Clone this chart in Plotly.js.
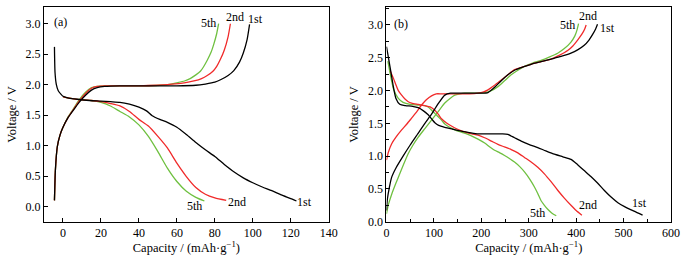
<!DOCTYPE html>
<html>
<head>
<meta charset="utf-8">
<script src="https://cdn.plot.ly/plotly-3.0.1.min.js"></script>
<style>html,body{margin:0;padding:0;background:#fff;}#chart{width:691px;height:255px;}</style>
</head>
<body>
<div id="chart"></div>
<script>
// ---- Panel (a) ----
var aD1x = [-4.5, -4.2, -3.5, -2.5, -1, 0, 3, 7.5, 14, 20, 25, 30, 35, 40, 44, 47, 51, 55, 60, 65, 70, 75, 80, 85, 90, 95, 100, 105, 110, 115, 120, 123];
var aD1y = [2.62, 2.2, 2.0, 1.9, 1.84, 1.81, 1.78, 1.76, 1.74, 1.73, 1.72, 1.71, 1.68, 1.63, 1.57, 1.49, 1.43, 1.38, 1.30, 1.18, 1.05, 0.93, 0.82, 0.69, 0.57, 0.47, 0.39, 0.32, 0.26, 0.19, 0.13, 0.09];
var aD2x = [0, 5, 10, 15, 20, 25, 30, 35, 40, 45, 50, 55, 60, 65, 70, 75, 80, 86];
var aD2y = [1.80, 1.77, 1.75, 1.74, 1.72, 1.69, 1.65, 1.56, 1.43, 1.32, 1.15, 0.96, 0.71, 0.49, 0.31, 0.20, 0.14, 0.10];
var aD5x = [0, 5, 10, 15, 20, 25, 30, 35, 40, 45, 50, 55, 60, 65, 70, 74.5];
var aD5y = [1.80, 1.77, 1.75, 1.74, 1.71, 1.65, 1.56, 1.47, 1.34, 1.15, 0.90, 0.63, 0.41, 0.25, 0.15, 0.09];
var aC1x = [-4.5, -4, -3, -1.5, 0, 2.5, 5, 8.5, 12, 15, 18, 22, 30, 40, 50, 60, 70, 75, 80, 83, 87, 90, 93, 95, 97, 98.3];
var aC1y = [0.10, 0.60, 0.98, 1.18, 1.30, 1.45, 1.56, 1.71, 1.83, 1.91, 1.95, 1.97, 1.98, 1.98, 1.98, 1.98, 1.99, 2.01, 2.04, 2.08, 2.15, 2.23, 2.37, 2.52, 2.74, 2.99];
var aC2x = [-4.5, -4, -3, -1.5, 0, 2.5, 5, 8.5, 12, 15, 18, 22, 30, 40, 50, 55, 62, 66, 69, 73, 76, 79, 81, 83, 85, 87, 88.2];
var aC2y = [0.10, 0.60, 0.98, 1.18, 1.30, 1.45, 1.57, 1.73, 1.86, 1.94, 1.97, 1.98, 1.98, 1.98, 1.99, 2.00, 2.02, 2.04, 2.06, 2.10, 2.15, 2.22, 2.30, 2.42, 2.57, 2.79, 3.0];
var aC5x = [-4.5, -4, -3, -1.5, 0, 2.5, 5, 8.5, 12, 15, 18, 22, 30, 40, 51, 57, 60, 64, 67, 70, 72.4, 74, 76, 78, 79.5, 81, 82];
var aC5y = [0.10, 0.60, 0.98, 1.18, 1.30, 1.46, 1.58, 1.75, 1.88, 1.95, 1.97, 1.98, 1.98, 1.98, 1.99, 2.01, 2.03, 2.06, 2.10, 2.16, 2.22, 2.29, 2.40, 2.53, 2.67, 2.84, 3.0];

// ---- Panel (b) ----
var bD1x = [0, 3, 7, 11, 15, 20, 28, 40, 55, 67, 78, 88, 96, 102, 110, 123, 140, 158, 175, 193, 210, 228, 245, 256, 270, 284, 300, 319, 336, 354, 372, 389, 403, 417, 431, 445, 459, 473, 488, 502, 522, 540];
var bD1y = [2.67, 2.55, 2.38, 2.21, 2.04, 1.88, 1.79, 1.77, 1.76, 1.74, 1.69, 1.63, 1.56, 1.51, 1.47, 1.44, 1.41, 1.38, 1.36, 1.34, 1.34, 1.34, 1.34, 1.33, 1.28, 1.23, 1.18, 1.13, 1.08, 1.03, 0.99, 0.95, 0.87, 0.78, 0.69, 0.59, 0.48, 0.38, 0.29, 0.23, 0.16, 0.10];
var bD2x = [8, 15, 25, 32, 39, 46, 53, 67, 81, 92, 102, 109, 116, 126, 137, 150, 165, 180, 193, 207, 221, 235, 249, 263, 277, 291, 305, 319, 333, 347, 361, 375, 389, 400, 412];
var bD2y = [2.30, 2.18, 2.00, 1.93, 1.87, 1.83, 1.81, 1.79, 1.77, 1.75, 1.70, 1.64, 1.57, 1.51, 1.46, 1.41, 1.37, 1.34, 1.32, 1.28, 1.23, 1.18, 1.14, 1.10, 1.05, 0.98, 0.91, 0.83, 0.73, 0.61, 0.48, 0.36, 0.25, 0.17, 0.10];
var bD5x = [3, 8, 15, 25, 35, 50, 65, 80, 88, 98, 109, 116, 123, 133, 144, 160, 179, 193, 207, 218, 228, 239, 249, 260, 270, 281, 291, 302, 312, 319, 326, 333, 340, 349, 358];
var bD5y = [2.45, 2.25, 2.02, 1.88, 1.82, 1.79, 1.78, 1.77, 1.75, 1.68, 1.60, 1.55, 1.49, 1.44, 1.40, 1.36, 1.31, 1.26, 1.20, 1.14, 1.09, 1.05, 1.01, 0.96, 0.91, 0.84, 0.76, 0.65, 0.53, 0.43, 0.32, 0.25, 0.19, 0.13, 0.09];
var bC1x = [0, 2, 6, 11, 20, 35, 50, 65, 81, 95, 102, 112, 123, 135, 150, 175, 200, 214, 228, 242, 256, 270, 288, 305, 326, 347, 368, 389, 403, 417, 427, 435, 441, 445];
var bC1y = [0.17, 0.35, 0.52, 0.68, 0.82, 1.00, 1.17, 1.33, 1.50, 1.64, 1.72, 1.83, 1.93, 1.96, 1.96, 1.96, 1.96, 1.97, 2.05, 2.15, 2.24, 2.31, 2.36, 2.40, 2.44, 2.48, 2.52, 2.57, 2.62, 2.69, 2.77, 2.86, 2.94, 3.01];
var bC2x = [0, 4, 11, 20, 32, 43, 53, 64, 74, 84, 95, 105, 116, 130, 150, 175, 193, 205, 214, 228, 242, 256, 270, 288, 305, 326, 347, 365, 382, 393, 403, 412, 418, 421];
var bC2y = [0.94, 1.06, 1.19, 1.29, 1.40, 1.49, 1.58, 1.68, 1.78, 1.86, 1.92, 1.95, 1.95, 1.95, 1.95, 1.95, 1.96, 1.98, 2.01, 2.08, 2.16, 2.24, 2.32, 2.36, 2.40, 2.44, 2.48, 2.54, 2.61, 2.68, 2.77, 2.86, 2.94, 3.0];
var bC5x = [0, 4, 11, 20, 28, 37, 46, 56, 67, 81, 95, 109, 123, 134, 144, 155, 165, 185, 207, 221, 235, 249, 263, 277, 291, 308, 326, 343, 361, 375, 389, 397, 402, 405];
var bC5y = [0.12, 0.26, 0.42, 0.59, 0.73, 0.89, 1.04, 1.17, 1.29, 1.42, 1.55, 1.68, 1.81, 1.88, 1.93, 1.95, 1.96, 1.96, 1.97, 2.00, 2.06, 2.15, 2.24, 2.31, 2.37, 2.42, 2.46, 2.51, 2.57, 2.64, 2.74, 2.83, 2.93, 3.02];

var cycleLabels = ['1st', '2nd', '5th'];
var colBlack = '#000000', colRed = '#f02a2a', colGreen = '#6fc040';
var serif = 'Liberation Serif';

function tr(x, y, color, xa, ya) {
  return {x: x, y: y, type: 'scatter', mode: 'lines', xaxis: xa, yaxis: ya,
          line: {color: color, width: 1.3, shape: 'spline', smoothing: 0.6}, showlegend: false, hoverinfo: 'skip'};
}

var data = [
  tr(aD5x, aD5y, colGreen, 'x', 'y'), tr(aC5x, aC5y, colGreen, 'x', 'y'),
  tr(aD2x, aD2y, colRed, 'x', 'y'), tr(aC2x, aC2y, colRed, 'x', 'y'),
  tr(aD1x, aD1y, colBlack, 'x', 'y'), tr(aC1x, aC1y, colBlack, 'x', 'y'),
  tr(bD5x, bD5y, colGreen, 'x2', 'y2'), tr(bC5x, bC5y, colGreen, 'x2', 'y2'),
  tr(bD2x, bD2y, colRed, 'x2', 'y2'), tr(bC2x, bC2y, colRed, 'x2', 'y2'),
  tr(bD1x, bD1y, colBlack, 'x2', 'y2'), tr(bC1x, bC1y, colBlack, 'x2', 'y2')
];

var tickFont = {family: serif, size: 12, color: '#000'};
var titleFont = {family: serif, size: 12.5, color: '#000'};
var xTitle = 'Capacity / (mAh·g<sup>−1</sup>)';

function ax(extra) {
  var base = {showline: true, linecolor: '#000', linewidth: 1.2, mirror: true, ticks: 'inside',
              ticklen: 4, tickwidth: 1, tickcolor: '#000', showgrid: false, zeroline: false,
              tickfont: tickFont, fixedrange: true};
  for (var k in extra) base[k] = extra[k];
  return base;
}

function ann(text, x, y, xr, yr) {
  return {text: text, x: x, y: y, xref: xr, yref: yr, showarrow: false,
          font: {family: serif, size: 12, color: '#000'}};
}

var layout = {
  width: 691, height: 255,
  margin: {l: 0, r: 0, t: 0, b: 0},
  paper_bgcolor: '#fff', plot_bgcolor: '#fff',
  font: {family: serif, color: '#000'},
  xaxis: ax({domain: [0.0637, 0.4757], range: [-10, 140], dtick: 20, tick0: 0,
             title: {text: xTitle, font: titleFont, standoff: 3}, anchor: 'y'}),
  yaxis: ax({domain: [0.1306, 0.9714], range: [-0.25, 3.27], dtick: 0.5, tick0: 0, tickformat: '.1f',
             title: {text: 'Voltage / V', font: titleFont, standoff: 6}, anchor: 'x'}),
  xaxis2: ax({domain: [0.5593, 0.9711], range: [0, 600], dtick: 100, tick0: 0,
              minor: {ticks: 'inside', dtick: 50, ticklen: 2.5, tickcolor: '#000'},
              title: {text: xTitle, font: titleFont, standoff: 3}, anchor: 'y2'}),
  yaxis2: ax({domain: [0.1306, 0.9714], range: [0, 3.27], dtick: 0.5, tick0: 0, tickformat: '.1f',
              minor: {ticks: 'inside', dtick: 0.25, ticklen: 2.5, tickcolor: '#000'},
              title: {text: 'Voltage / V', font: titleFont, standoff: 6}, anchor: 'x2'}),
  annotations: [
    ann('(a)', -1.5, 3.03, 'x', 'y'),
    ann(cycleLabels[2], 76.6, 3.02, 'x', 'y'),
    ann(cycleLabels[1], 90.8, 3.11, 'x', 'y'),
    ann(cycleLabels[0], 101.3, 3.07, 'x', 'y'),
    ann(cycleLabels[2], 69.2, 0.0, 'x', 'y'),
    ann(cycleLabels[1], 91.8, 0.07, 'x', 'y'),
    ann(cycleLabels[0], 127.1, 0.07, 'x', 'y'),
    ann('(b)', 30, 3.02, 'x2', 'y2'),
    ann(cycleLabels[2], 382, 3.0, 'x2', 'y2'),
    ann(cycleLabels[1], 424, 3.13, 'x2', 'y2'),
    ann(cycleLabels[0], 466, 2.95, 'x2', 'y2'),
    ann(cycleLabels[2], 319, 0.14, 'x2', 'y2'),
    ann(cycleLabels[1], 424, 0.26, 'x2', 'y2'),
    ann(cycleLabels[0], 533, 0.29, 'x2', 'y2')
  ]
};

Plotly.newPlot('chart', data, layout, {staticPlot: true, displayModeBar: false});
</script>
</body>
</html>
